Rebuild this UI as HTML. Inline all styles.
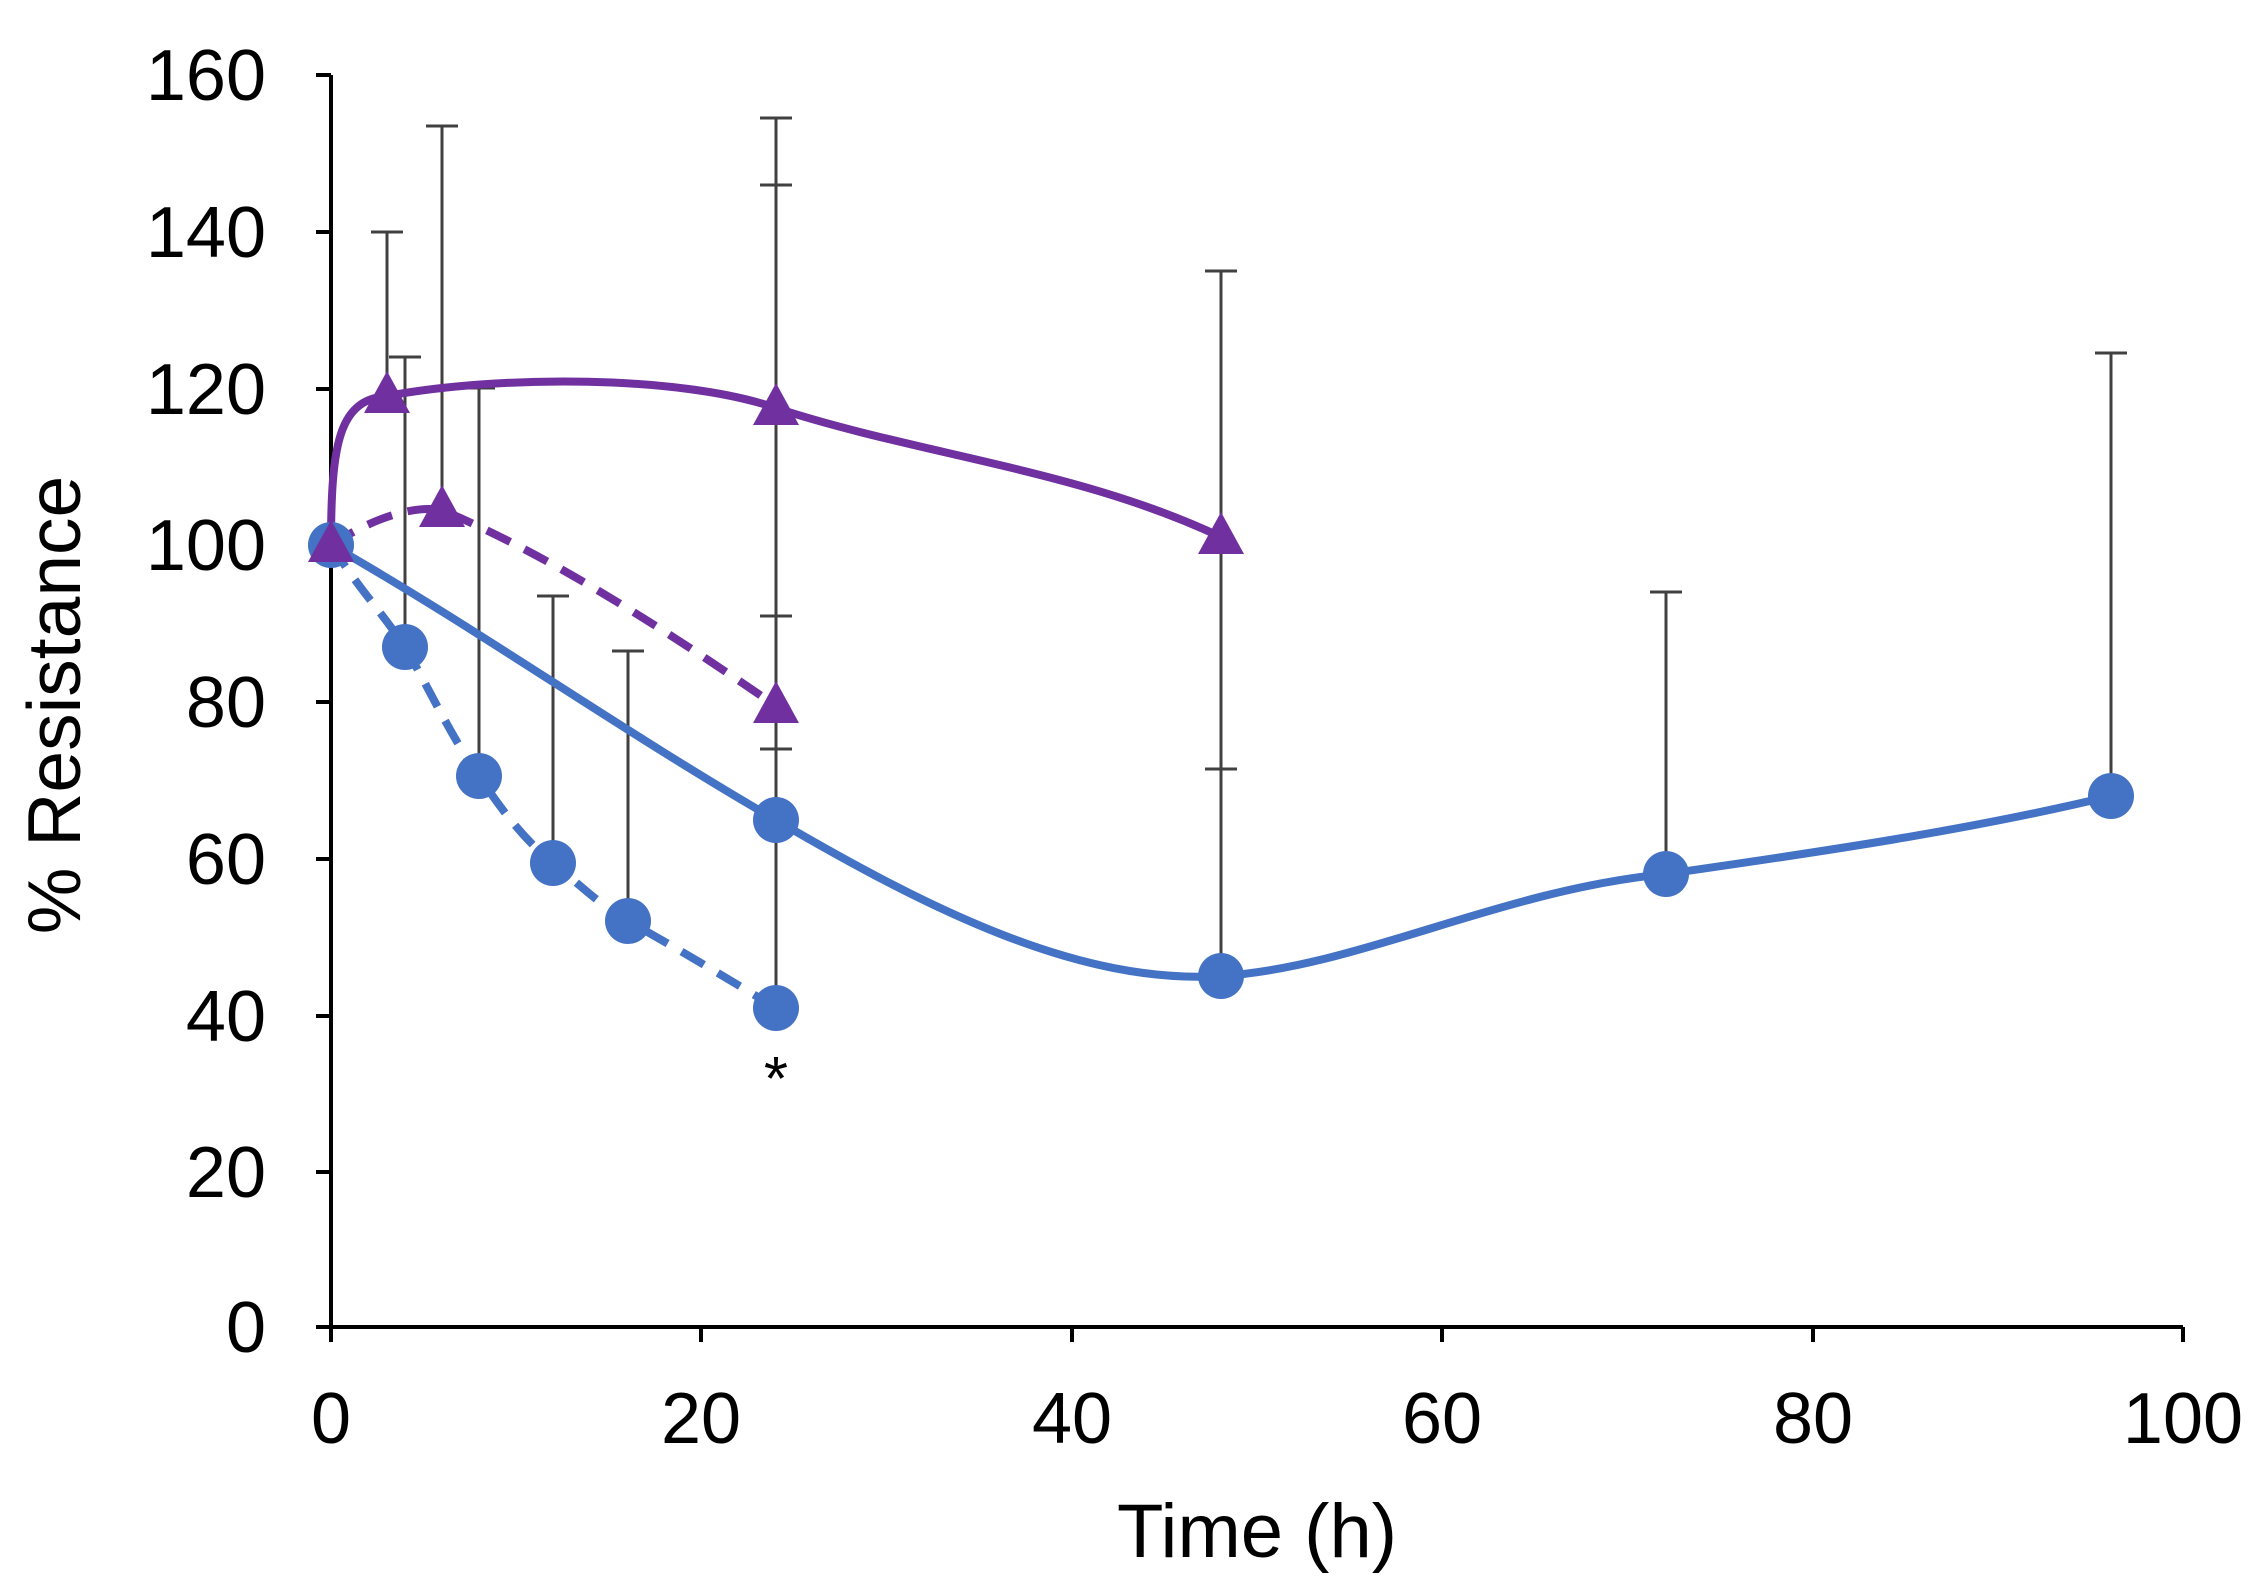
<!DOCTYPE html>
<html><head><meta charset="utf-8"><style>body{margin:0;background:#fff}svg{display:block}</style></head><body>
<svg width="2251" height="1593" xmlns="http://www.w3.org/2000/svg" font-family="Liberation Sans, Arial, sans-serif">
<rect width="2251" height="1593" fill="#fff"/>
<g stroke="#404040" stroke-width="3" fill="none">
<path d="M387,396V232M371,232h32"/>
<path d="M405,647V357M389,357h32"/>
<path d="M442,510V126M426,126h32"/>
<path d="M479,776V388M463,388h32"/>
<path d="M553,863V596M537,596h32"/>
<path d="M628,921V651M612,651h32"/>
<path d="M776,1008V118M760,118h32M760,185h32M760,616h32M760,749h32"/>
<path d="M1221,976V271M1205,271h32M1205,769h32"/>
<path d="M1666,874V592M1650,592h32"/>
<path d="M2111,796V353M2095,353h32"/>
</g>
<g stroke="#000" stroke-width="4" fill="none">
<path d="M331,75V1327H2183"/>
<path d="M316,75h15M316,232h15M316,389h15M316,545h15M316,702h15M316,859h15M316,1016h15M316,1172h15M316,1327h15"/>
<path d="M331,1327v15M701,1327v15M1072,1327v15M1442,1327v15M1813,1327v15M2183,1327v15"/>
</g>
<g font-size="72" text-anchor="end" fill="#000">
<text x="266" y="100">160</text><text x="266" y="257">140</text><text x="266" y="414">120</text><text x="266" y="570">100</text><text x="266" y="727">80</text><text x="266" y="884">60</text><text x="266" y="1041">40</text><text x="266" y="1197">20</text><text x="266" y="1352">0</text>
</g>
<g font-size="72" text-anchor="middle" fill="#000">
<text x="331" y="1443">0</text><text x="701" y="1443">20</text><text x="1072" y="1443">40</text><text x="1442" y="1443">60</text><text x="1813" y="1443">80</text><text x="2183" y="1443">100</text>
<text x="1257" y="1557" font-size="76">Time (h)</text>
<text transform="translate(80,705) rotate(-90)" font-size="75">% Resistance</text>
<text x="776" y="1100" font-size="62">*</text>
</g>
<g fill="none" stroke-width="8">
<path stroke="#4472C4" d="M331,545 C480,630 620,730 776,820 C930,910 1080,985 1221,976 C1360,967 1500,890 1666,874 C1820,852 1970,830 2111,796"/>
<path stroke="#4472C4" stroke-dasharray="26,16" d="M331,545 C360,590 380,610 405,647 C430,690 450,735 479,776 C505,815 525,840 553,863 C580,885 600,905 628,921 C680,950 730,980 776,1008"/>
<path stroke="#7030A0" d="M331,545 C331,440 340,400 387,396 C500,375 680,375 776,408 C920,455 1080,470 1221,537"/>
<path stroke="#7030A0" stroke-dasharray="26,16" d="M331,545 C370,520 410,505 442,510 C560,560 680,640 776,706"/>
</g>
<g fill="#4472C4">
<circle cx="331" cy="545" r="23"/><circle cx="776" cy="820" r="23"/><circle cx="1221" cy="976" r="23"/><circle cx="1666" cy="874" r="23"/><circle cx="2111" cy="796" r="23"/>
<circle cx="405" cy="647" r="23"/><circle cx="479" cy="776" r="23"/><circle cx="553" cy="863" r="23"/><circle cx="628" cy="921" r="23"/><circle cx="776" cy="1008" r="23"/>
</g>
<g fill="#7030A0">
<path d="M331,520l23,42h-46z"/><path d="M387,371l23,42h-46z"/><path d="M776,383l23,42h-46z"/><path d="M1221,512l23,42h-46z"/>
<path d="M442,485l23,42h-46z"/><path d="M776,681l23,42h-46z"/>
</g>
</svg>
</body></html>
